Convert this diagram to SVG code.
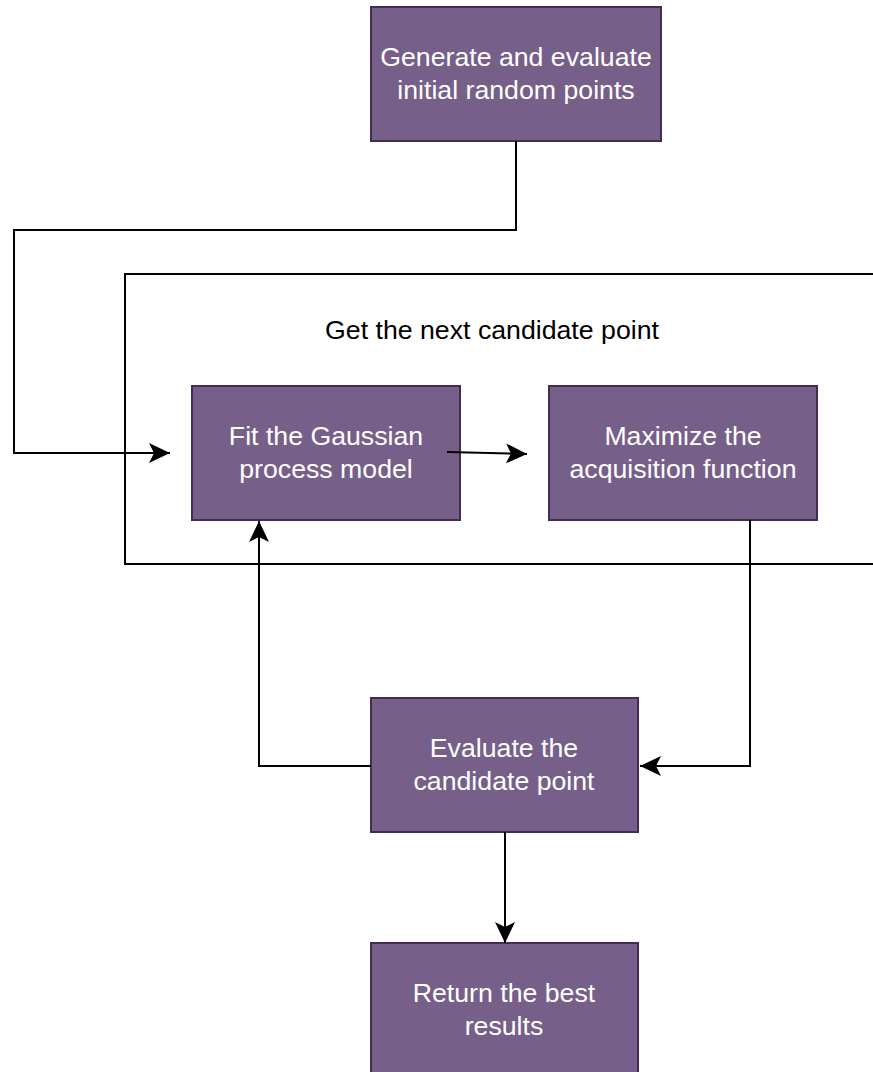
<svg xmlns="http://www.w3.org/2000/svg" width="873" height="1072" viewBox="0 0 873 1072">
<style>
.node rect{fill:#76608a;stroke:#432d57;stroke-width:2}
.node text{fill:#ffffff;font-family:"Liberation Sans",Arial,sans-serif;font-size:26.7px;text-anchor:middle}
.edge{fill:none;stroke:#000000;stroke-width:2}
.label{fill:#000000;font-family:"Liberation Sans",Arial,sans-serif;font-size:26.7px;text-anchor:middle}
</style>
<defs>
<marker id="arr" markerUnits="userSpaceOnUse" markerWidth="26" markerHeight="22" viewBox="0 -11 26 22" refX="21" refY="0" orient="auto">
<path d="M0,-10 L21,0 L0,10 L5,0 Z" fill="#000000"/>
</marker>
</defs>
<rect width="873" height="1072" fill="#ffffff"/>
<g id="container">
<rect x="125" y="274" width="800" height="290" fill="none" stroke="#000000" stroke-width="2"/>
<text class="label" x="492" y="339">Get the next candidate point</text>
</g>
<g id="n1" class="node">
<rect x="371" y="7" width="290" height="134"/>
<text x="516" y="66">Generate and evaluate</text>
<text x="516" y="99">initial random points</text>
</g>
<g id="n2" class="node">
<rect x="192" y="386" width="268" height="134"/>
<text x="326" y="445">Fit the Gaussian</text>
<text x="326" y="478">process model</text>
</g>
<g id="n3" class="node">
<rect x="549" y="386" width="268" height="134"/>
<text x="683" y="445">Maximize the</text>
<text x="683" y="478">acquisition function</text>
</g>
<g id="n4" class="node">
<rect x="371" y="698" width="267" height="134"/>
<text x="504" y="757">Evaluate the</text>
<text x="504" y="790">candidate point</text>
</g>
<g id="n5" class="node">
<rect x="371" y="943" width="267" height="134"/>
<text x="504" y="1002">Return the best</text>
<text x="504" y="1035">results</text>
</g>
<g id="connectors">
<polyline class="edge" points="516,141 516,230 14,230 14,453 170,453" marker-end="url(#arr)"/>
<line class="edge" x1="447" y1="452" x2="527" y2="454" marker-end="url(#arr)"/>
<polyline class="edge" points="750,520 750,766 640,766" marker-end="url(#arr)"/>
<polyline class="edge" points="371,766 259,766 259,521" marker-end="url(#arr)"/>
<line class="edge" x1="505" y1="832" x2="505" y2="943" marker-end="url(#arr)"/>
</g>
</svg>
